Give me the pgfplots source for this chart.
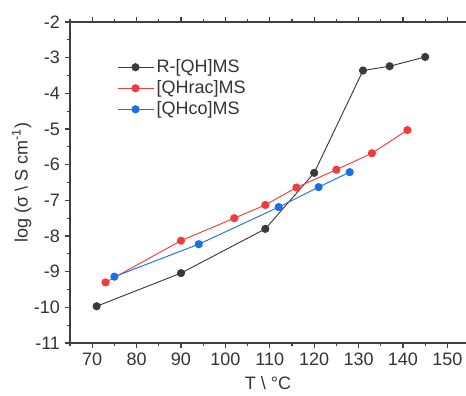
\documentclass[border=0pt]{standalone}
\usepackage{pgfplots}
\pgfplotsset{compat=1.18}
\usepackage{fontspec}
\setmainfont{Liberation Sans}
\definecolor{cblack}{HTML}{3A3A3A}
\definecolor{cred}{HTML}{F23B3B}
\definecolor{cblue}{HTML}{1A6FE6}
\begin{document}
\begin{tikzpicture}
\begin{axis}[
  scale only axis,
  width=297pt, height=240.75pt,
  xmin=65, xmax=154.2,
  ymin=-11, ymax=-2,
  axis x line=box,
  axis y line=left,
  axis line style={black!75, line width=0.9pt, -},
  xtick={70,80,...,150},
  minor xtick={65,75,...,155},
  ytick={-11,-10,...,-2},
  minor ytick={-10.5,-9.5,...,-2.5},
  tick align=outside,
  major tick length=4pt,
  minor tick length=2.5pt,
  tick style={black!75, line width=0.8pt},
  xticklabel pos=bottom,
  /pgf/number format/assume math mode=true,
  tick label style={font=\fontsize{13.5}{15}\selectfont, text=black!80},
  label style={font=\fontsize{13.5}{15}\selectfont, text=black!80},
  xlabel={T \textbackslash\ °C},
  ylabel={log (σ \textbackslash\ S cm\textsuperscript{-1})},
  xlabel style={yshift=-1pt},
  ylabel style={yshift=-5pt},
  legend style={draw=none, fill=none, at={(0.108,0.9)}, anchor=north west,
    font=\fontsize{13.5}{15}\selectfont, text=black!80, row sep=0.5pt},
  legend cell align=left,
  legend image code/.code={
    \draw[#1, mark=none] (0cm,0cm) -- (0.95cm,0cm);
    \draw[#1, only marks] plot coordinates {(0.475cm,0cm)};
  },
]
\addplot[cblack, line width=0.7pt, mark=*, mark size=2.7pt, mark options={fill=cblack, draw=cblack}] coordinates {
(71,-9.97) (90,-9.04) (109,-7.80) (120,-6.23) (131,-3.36) (137,-3.24) (145,-2.98)
};
\addlegendentry{R-[QH]MS}
\addplot[cred, line width=0.7pt, mark=*, mark size=2.7pt, mark options={fill=cred, draw=cred}] coordinates {
(73,-9.30) (90,-8.13) (102,-7.50) (109,-7.13) (116,-6.64) (125,-6.14) (133,-5.68) (141,-5.03)
};
\addlegendentry{[QHrac]MS}
\addplot[cblue, line width=0.7pt, mark=*, mark size=2.7pt, mark options={fill=cblue, draw=cblue}] coordinates {
(75,-9.14) (94,-8.23) (112,-7.19) (121,-6.63) (128,-6.21)
};
\addlegendentry{[QHco]MS}
\end{axis}
\pgfresetboundingbox
\path[use as bounding box] ([shift={(-52.5pt,-39pt)}]current axis.south west) rectangle ++(349.5pt,296.25pt);
\end{tikzpicture}
\end{document}
